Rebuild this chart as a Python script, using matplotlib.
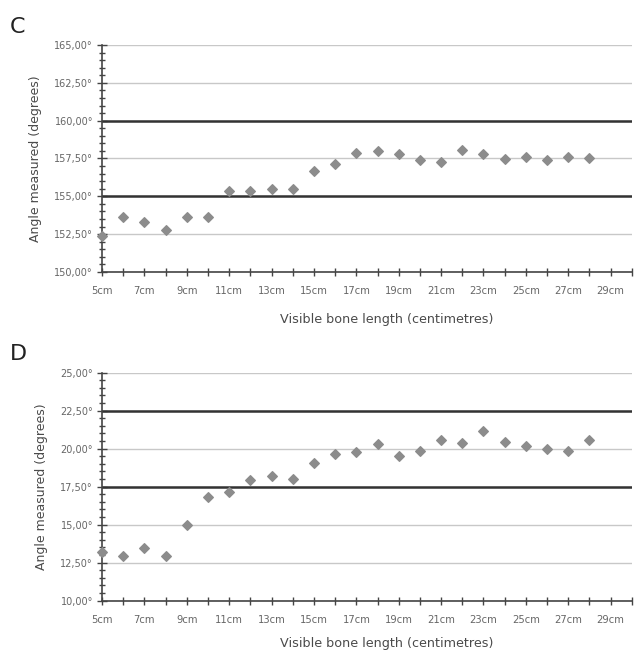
import numpy as np
import matplotlib
matplotlib.use('Agg')
import matplotlib.pyplot as plt
from matplotlib.ticker import MultipleLocator, FuncFormatter

lengths = list(range(5, 29))
angles_c = [152.38, 153.62, 153.33, 152.76, 153.66, 153.64, 155.34, 155.34,
            155.49, 155.49, 156.68, 157.15, 157.83, 158.01, 157.81, 157.43,
            157.28, 158.09, 157.79, 157.48, 157.59, 157.37, 157.57, 157.54]
angles_d = [13.22, 12.92, 13.44, 12.94, 14.98, 16.82, 17.17, 17.96, 18.18,
            18.03, 19.06, 19.65, 19.78, 20.33, 19.54, 19.82, 20.55, 20.39,
            21.14, 20.46, 20.15, 20.00, 19.82, 20.55]
xticks = list(range(5, 30, 2))
xlabels = ['%dcm' % v for v in xticks]

panels = [
    ('C', angles_c, (150, 165), (155, 160), [0.1604, 0.5854, 0.833, 0.346], 12),
    ('D', angles_d, (10, 25), (17.5, 22.5), [0.1604, 0.0843, 0.833, 0.3476], 9),
]

fig = plt.figure(figsize=(6.36, 6.56), dpi=100)
text_col = '#4a4a4a'

for letter, values, ylim, bounds, rect, xpad in panels:
    ax = fig.add_axes(rect)
    ax.set_xlim(5, 30)
    ax.set_ylim(*ylim)
    ax.yaxis.set_major_locator(MultipleLocator(2.5))
    ax.yaxis.set_minor_locator(MultipleLocator(0.5))
    ax.yaxis.set_major_formatter(FuncFormatter(lambda v, p: ('%.2f°' % v).replace('.', ',')))
    ax.set_xticks(xticks)
    ax.set_xticklabels(xlabels)
    ax.xaxis.set_minor_locator(MultipleLocator(1))
    ax.grid(axis='y', which='major', color='#c8c8c8', lw=1)
    ax.set_axisbelow(True)
    for b in bounds:
        ax.axhline(b, color='#333333', lw=1.8, zorder=2)
    ax.scatter(lengths, values, marker='D', s=24, color='#8c8c8c', zorder=5, clip_on=False)
    for s in ['top', 'right']:
        ax.spines[s].set_visible(False)
    for s in ['left', 'bottom']:
        ax.spines[s].set_color('#444444')
        ax.spines[s].set_linewidth(1.2)
    ax.tick_params(axis='both', which='both', direction='inout', color='#444444', width=1)
    ax.tick_params(axis='y', which='major', length=7, labelsize=7, labelcolor='#666666', pad=3)
    ax.tick_params(axis='y', which='minor', length=5)
    ax.tick_params(axis='x', which='both', length=6, labelsize=7.2, labelcolor='#666666', pad=7)
    ax.set_xlabel('Visible bone length (centimetres)', fontsize=9.2, color=text_col, labelpad=xpad)
    ax.xaxis.label.set_x(0.538)
    ax.set_ylabel('Angle measured (degrees)', fontsize=9, color=text_col, labelpad=9)
    fig.text(0.015, rect[1] + rect[3] + 0.028, letter, fontsize=16, color='#222222', va='center')

fig.savefig('out.png', dpi=100)
